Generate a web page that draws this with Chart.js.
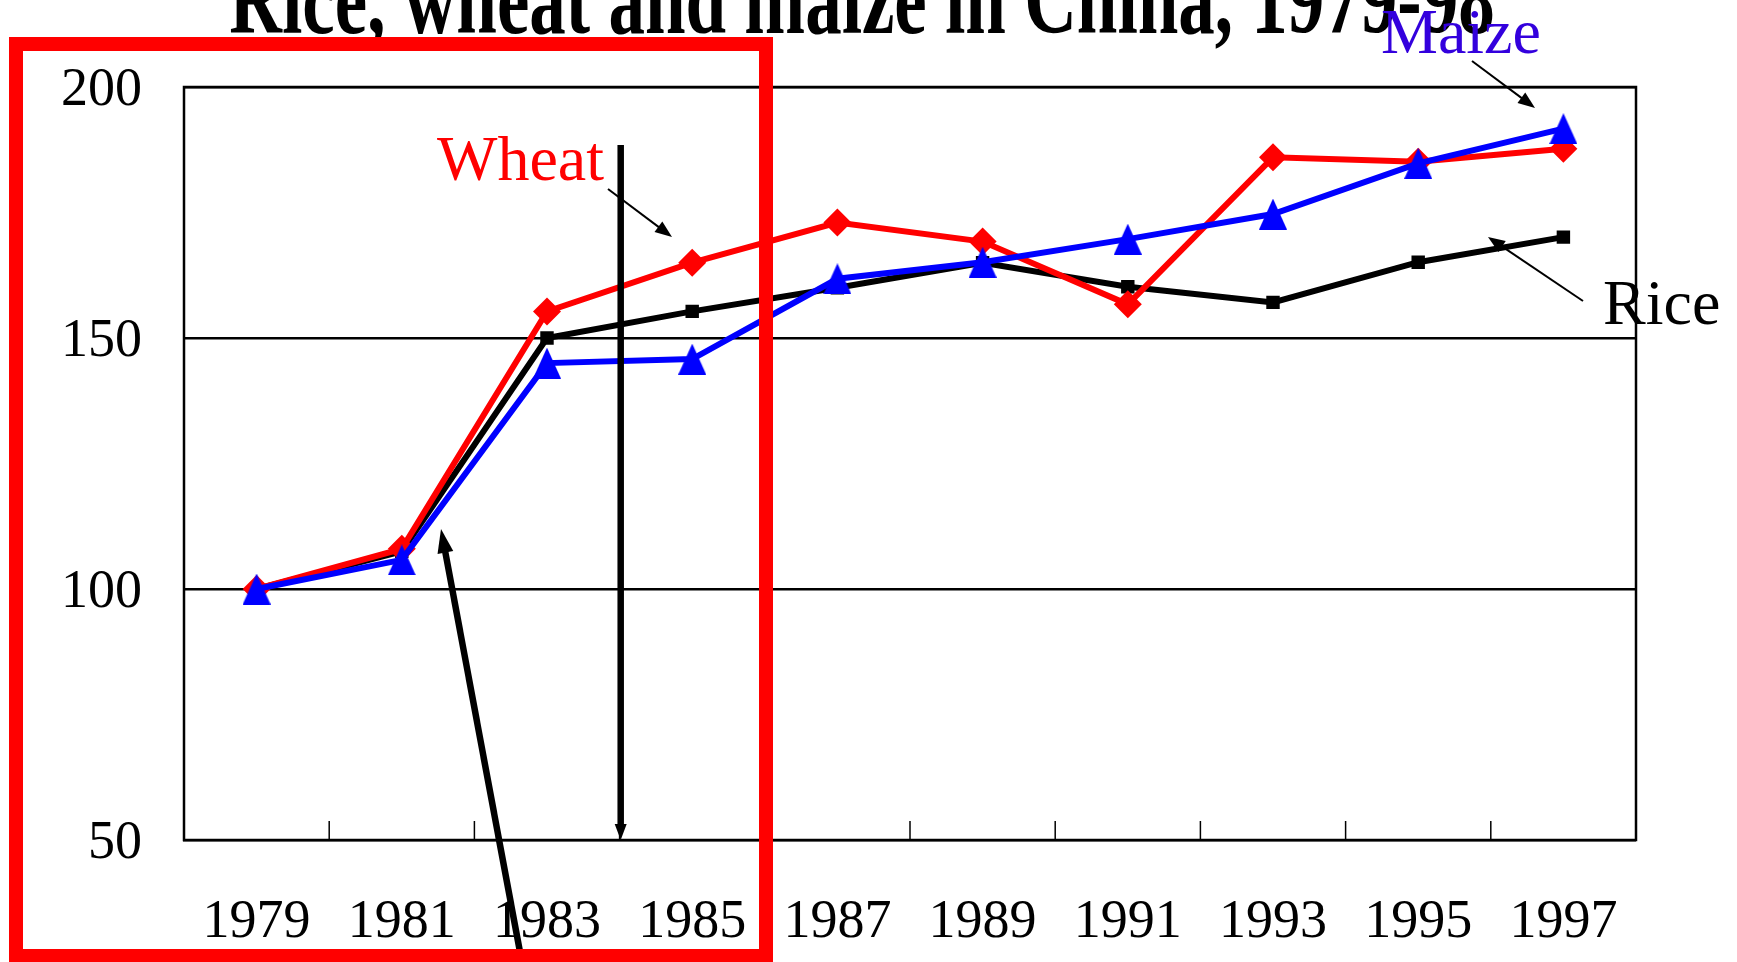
<!DOCTYPE html>
<html>
<head>
<meta charset="utf-8">
<script src="https://cdn.jsdelivr.net/npm/chart.js@4/dist/chart.umd.min.js"></script>
<style>
html,body{margin:0;padding:0;background:#fff;overflow:hidden}
#wrap{position:relative;width:1737px;height:962px}
</style>
</head>
<body>
<div id="wrap"><canvas id="c"></canvas></div>
<script>
// ---- data ----
const years = ['1979','1981','1983','1985','1987','1989','1991','1993','1995','1997'];
const rice  = [100, 107.5, 150, 155.3, 160.0, 165.0, 160.2, 157.1, 165.1, 170.1];
const wheat = [100, 108.0, 155.3, 165.0, 173.0, 169.2, 156.7, 186.0, 185.1, 187.7];
const maize = [100, 105.8, 145.0, 145.8, 161.8, 165.1, 169.7, 174.7, 184.8, 191.7];
const yTicks = [50, 100, 150, 200];
const titleText = 'Rice, wheat and maize in China, 1979-98';
const labelWheat = 'Wheat';
const labelMaize = 'Maize';
const labelRice = 'Rice';

const SERIF = '"Liberation Serif", "Times New Roman", serif';

// triangle marker (taller than equilateral, as in the reference)
function makeTriangle(w, h, color) {
  const c = document.createElement('canvas');
  c.width = w; c.height = h;
  const g = c.getContext('2d');
  g.fillStyle = color;
  g.beginPath();
  g.moveTo(w / 2, 0);
  g.lineTo(w, h);
  g.lineTo(0, h);
  g.closePath();
  g.fill();
  return c;
}
const tri = makeTriangle(28, 31, '#0000FF');

function arrow(ctx, x1, y1, x2, y2, lw, hl, hw) {
  const a = Math.atan2(y2 - y1, x2 - x1);
  const c = Math.cos(a), s = Math.sin(a);
  ctx.lineWidth = lw;
  ctx.beginPath();
  ctx.moveTo(x1, y1);
  ctx.lineTo(x2 - c * hl * 0.7, y2 - s * hl * 0.7);
  ctx.stroke();
  const bx = x2 - c * hl, by = y2 - s * hl;
  ctx.beginPath();
  ctx.moveTo(x2, y2);
  ctx.lineTo(bx - s * hw / 2, by + c * hw / 2);
  ctx.lineTo(bx + s * hw / 2, by - c * hw / 2);
  ctx.closePath();
  ctx.fill();
}

const deco = {
  id: 'deco',
  beforeDatasetsDraw(chart) {
    const {ctx, chartArea: a, scales: {x}} = chart;
    ctx.save();
    ctx.strokeStyle = '#000';
    ctx.lineWidth = 2.5;
    ctx.strokeRect(a.left, a.top, a.right - a.left, a.bottom - a.top);
    ctx.lineWidth = 1.5;
    for (let i = 1; i < years.length; i++) {
      const px = (x.getPixelForValue(i - 1) + x.getPixelForValue(i)) / 2;
      ctx.beginPath();
      ctx.moveTo(px, a.bottom);
      ctx.lineTo(px, a.bottom - 19);
      ctx.stroke();
    }
    ctx.restore();
  },
  afterDraw(chart) {
    const {ctx} = chart;
    ctx.save();
    // title (cut off at the top, as in the reference; tall bold serif)
    ctx.fillStyle = '#000';
    ctx.font = 'bold 73px ' + SERIF;
    ctx.textAlign = 'center';
    ctx.textBaseline = 'alphabetic';
    ctx.save();
    ctx.translate(862, 33);
    ctx.scale(1, 1.4);
    ctx.fillText(titleText, 0, 0);
    ctx.restore();

    // series labels
    ctx.textAlign = 'left';
    ctx.font = '64px ' + SERIF;
    ctx.fillStyle = '#FF0000';
    ctx.fillText(labelWheat, 437, 180);
    ctx.fillStyle = '#3300DD';
    ctx.fillText(labelMaize, 1381, 53);
    ctx.fillStyle = '#000';
    ctx.fillText(labelRice, 1603, 324);

    // pointer arrows
    ctx.strokeStyle = '#000';
    ctx.fillStyle = '#000';
    arrow(ctx, 608, 189, 672, 237, 2, 17, 13);
    arrow(ctx, 1472, 61, 1535, 108, 2, 17, 13);
    arrow(ctx, 1583, 301, 1488, 237, 2, 17, 13);

    // big annotation arrows
    arrow(ctx, 620.7, 145, 620.7, 840, 6.5, 16, 12);
    arrow(ctx, 523, 968, 441, 529, 6.5, 24, 16);

    // red highlight box
    ctx.strokeStyle = '#FF0000';
    ctx.lineWidth = 14;
    ctx.strokeRect(16, 44, 750, 912);
    ctx.restore();
  }
};

new Chart(document.getElementById('c'), {
  type: 'line',
  data: {
    labels: years,
    datasets: [
      {
        label: 'Maize', data: maize,
        borderColor: '#0000FF', backgroundColor: '#0000FF', borderWidth: 6,
        pointStyle: tri, pointRadius: 15, pointHoverRadius: 15,
        tension: 0, fill: false
      },
      {
        label: 'Wheat', data: wheat,
        borderColor: '#FF0000', backgroundColor: '#FF0000', borderWidth: 6,
        pointStyle: 'rectRot', pointRadius: 14, pointBorderWidth: 0,
        tension: 0, fill: false
      },
      {
        label: 'Rice', data: rice,
        borderColor: '#000000', backgroundColor: '#000000', borderWidth: 6,
        pointStyle: 'rect', pointRadius: 9.5, pointBorderWidth: 0,
        tension: 0, fill: false
      }
    ]
  },
  options: {
    responsive: true,
    maintainAspectRatio: false,
    devicePixelRatio: 1,
    animation: false,
    events: [],
    layout: { padding: { top: 87, right: 101, left: 0, bottom: 0 } },
    plugins: { legend: { display: false }, title: { display: false }, tooltip: { enabled: false } },
    scales: {
      x: {
        type: 'category',
        offset: true,
        grid: { display: false, drawTicks: false },
        border: { display: false },
        ticks: {
          color: '#000', padding: 50, maxRotation: 0, autoSkip: false,
          font: { family: SERIF, size: 54 }
        },
        afterFit(s) { s.height = 122; }
      },
      y: {
        min: 50, max: 200,
        afterBuildTicks(s) { s.ticks = yTicks.map(v => ({ value: v })); },
        grid: { color: '#000', lineWidth: 2.5, drawTicks: false },
        border: { display: true, color: '#000', width: 2 },
        ticks: {
          color: '#000', padding: 42, labelOffset: 4,
          font: { family: SERIF, size: 54 }
        },
        afterFit(s) { s.width = 184; }
      }
    }
  },
  plugins: [deco]
});
</script>
</body>
</html>
